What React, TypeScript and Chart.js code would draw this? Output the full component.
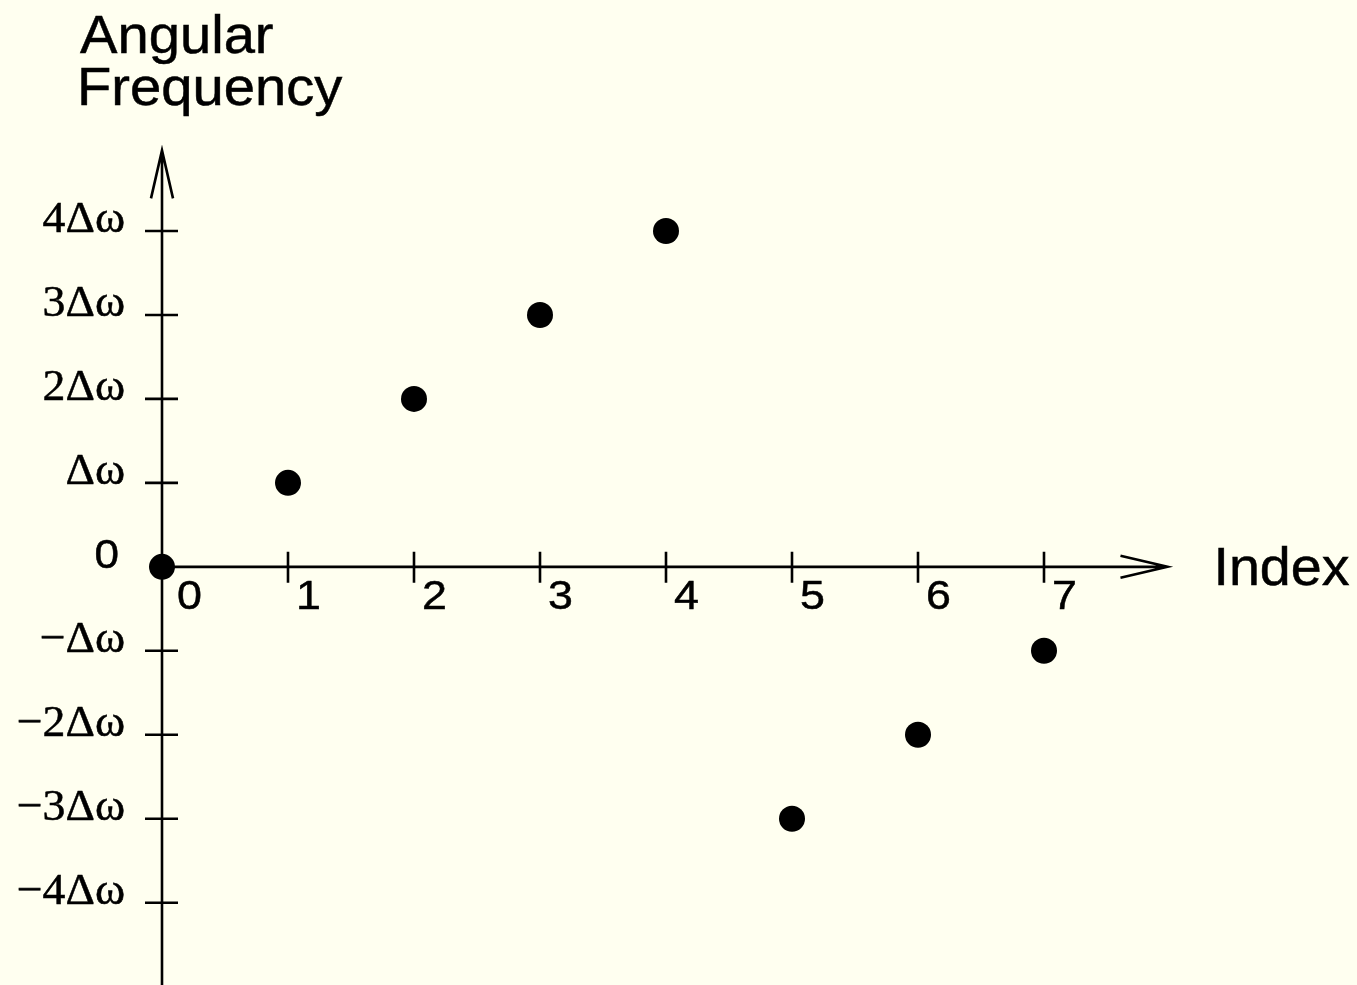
import React, { useEffect, useRef } from "react";
import { Chart, registerables } from "chart.js";

Chart.register(...registerables);

// Sample index k and its angular frequency in units of Δω
const indices = [0, 1, 2, 3, 4, 5, 6, 7];
const frequencySteps = [0, 1, 2, 3, 4, -3, -2, -1];

// Axis tick values and their labels
const xTickValues = [0, 1, 2, 3, 4, 5, 6, 7];
const xTickLabels = ["0", "1", "2", "3", "4", "5", "6", "7"];
const yTickValues = [-4, -3, -2, -1, 0, 1, 2, 3, 4];
const yTickLabels = ["\u22124\u0394\u03c9", "\u22123\u0394\u03c9", "\u22122\u0394\u03c9", "\u2212\u0394\u03c9", "0", "\u0394\u03c9", "2\u0394\u03c9", "3\u0394\u03c9", "4\u0394\u03c9"];

const yTitleLines = ["Angular", "Frequency"];
const xTitle = "Index";

const BG = "#FFFFF0";
const INK = "#000000";
const SANS = '"Liberation Sans", Arial, sans-serif';
const SERIF = '"Liberation Serif", "Times New Roman", serif';

// text drawn with a slight horizontal widening and a hairline outline, anchored at (x, y)
function wideText(ctx: CanvasRenderingContext2D, text: string, x: number, y: number, sx: number) {
  ctx.save();
  ctx.translate(x, y);
  ctx.scale(sx, 1);
  ctx.fillText(text, 0, 0);
  ctx.lineWidth = 0.5;
  ctx.strokeText(text, 0, 0);
  ctx.restore();
}

const axesPlugin = {
  id: "arrowAxes",
  beforeDraw(chart: any) {
    const { ctx, width, height } = chart;
    ctx.save();
    ctx.fillStyle = BG;
    ctx.fillRect(0, 0, width, height);
    ctx.restore();
  },
  beforeDatasetsDraw(chart: any) {
    const { ctx, height } = chart;
    const xs = chart.scales.x;
    const ys = chart.scales.y;
    const x0 = xs.getPixelForValue(0);
    const y0 = ys.getPixelForValue(0);
    const yTip = ys.getPixelForValue(4.96);
    const xTip = xs.getPixelForValue(7.98);

    ctx.save();
    ctx.strokeStyle = INK;
    ctx.fillStyle = INK;
    ctx.lineWidth = 2.6;
    ctx.lineJoin = "miter";

    // vertical axis with open arrowhead
    ctx.beginPath();
    ctx.moveTo(x0, height);
    ctx.lineTo(x0, yTip);
    ctx.moveTo(x0 - 11, yTip + 48);
    ctx.lineTo(x0, yTip);
    ctx.lineTo(x0 + 11, yTip + 48);
    ctx.stroke();

    // horizontal axis with open arrowhead
    ctx.beginPath();
    ctx.moveTo(x0, y0);
    ctx.lineTo(xTip, y0);
    ctx.moveTo(xTip - 47, y0 - 11);
    ctx.lineTo(xTip, y0);
    ctx.lineTo(xTip - 47, y0 + 11);
    ctx.stroke();

    // y ticks crossing the axis
    ctx.beginPath();
    yTickValues.forEach((v) => {
      if (v === 0) return;
      const py = ys.getPixelForValue(v);
      ctx.moveTo(x0 - 17, py);
      ctx.lineTo(x0 + 16, py);
    });
    ctx.stroke();

    // x ticks crossing the axis
    ctx.beginPath();
    xTickValues.forEach((v) => {
      if (v === 0) return;
      const px = xs.getPixelForValue(v);
      ctx.moveTo(px, y0 - 15);
      ctx.lineTo(px, y0 + 16);
    });
    ctx.stroke();

    // y tick labels
    ctx.textAlign = "right";
    ctx.textBaseline = "alphabetic";
    yTickValues.forEach((v, i) => {
      const py = ys.getPixelForValue(v);
      if (v === 0) {
        ctx.font = `40px ${SANS}`;
        wideText(ctx, yTickLabels[i], x0 - 43, py + 1, 1.1);
      } else {
        ctx.font = `44px ${SERIF}`;
        wideText(ctx, yTickLabels[i], x0 - 37, py + 1, 1.04);
      }
    });

    // x tick labels, set just right of each tick
    ctx.textAlign = "left";
    ctx.font = `40px ${SANS}`;
    xTickValues.forEach((v, i) => {
      const px = xs.getPixelForValue(v);
      wideText(ctx, xTickLabels[i], px + (v === 0 ? 15 : 8), y0 + 42, 1.12);
    });

    // axis titles
    ctx.font = `54px ${SANS}`;
    wideText(ctx, xTitle, xTip + 46, y0 + 18, 1.03);
    wideText(ctx, yTitleLines[0], x0 - 82, 53, 1.04);
    wideText(ctx, yTitleLines[1], x0 - 85, 105, 1.04);

    ctx.restore();
  },
};

export default function App() {
  const canvasRef = useRef<HTMLCanvasElement | null>(null);

  useEffect(() => {
    const canvas = canvasRef.current;
    if (!canvas) return;
    const chart = new Chart(canvas, {
      type: "scatter",
      data: {
        datasets: [
          {
            data: indices.map((k, i) => ({ x: k, y: frequencySteps[i] })),
            pointRadius: 13,
            pointHoverRadius: 13,
            pointBackgroundColor: INK,
            pointBorderColor: INK,
            pointBorderWidth: 0,
            showLine: false,
            clip: false,
          },
        ],
      },
      options: {
        animation: false,
        responsive: false,
        maintainAspectRatio: false,
        layout: { autoPadding: false, padding: { left: 162, right: 187, top: 147, bottom: 0 } },
        plugins: {
          legend: { display: false },
          tooltip: { enabled: false },
        },
        scales: {
          x: { type: "linear", min: 0, max: 8, display: false },
          y: { type: "linear", min: -4.98, max: 5, display: false },
        },
      },
      plugins: [axesPlugin],
    });
    return () => chart.destroy();
  }, []);

  return (
    <div style={{ position: "fixed", left: 0, top: 0, width: 1357, height: 985, background: BG }}>
      <canvas ref={canvasRef} width={1357} height={985} style={{ display: "block", width: 1357, height: 985 }} />
    </div>
  );
}
